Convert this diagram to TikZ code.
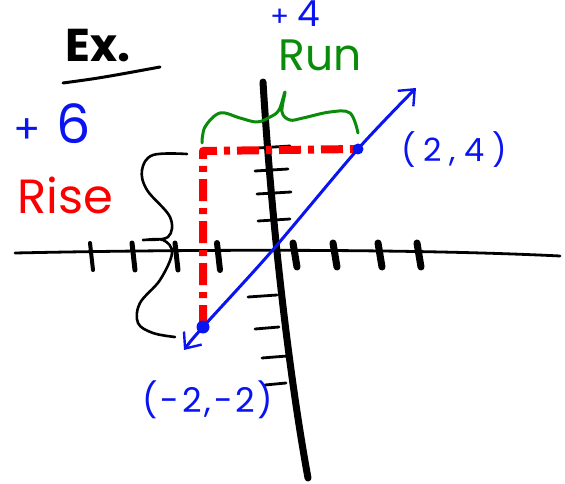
\documentclass[tikz,border=0pt]{standalone}
\usepackage{fontspec}
\setmainfont{Poppins}
\usetikzlibrary{arrows.meta}
\definecolor{penblue}{RGB}{10,20,240}
\definecolor{penred}{RGB}{250,0,0}
\definecolor{pengreen}{RGB}{10,140,10}
\tikzset{
  hand/.style={inner sep=0pt,font=\fontsize{#1}{#1}\selectfont},
  xtick/.style={line width=#1},
  ytick/.style={line width=2.8pt},
}
\begin{document}
\begin{tikzpicture}[x=1pt,y=-1pt,line join=round,line cap=round,>={Straight Barb[length=13pt,width=22pt,line width=2.4pt]}] %Rise over run
\useasboundingbox (0,0) rectangle (565,484);
\draw[line width=2.8pt] (15,253) .. controls (200,249) and (420,249) .. (560,256);
\draw[line width=7pt] (263,82) .. controls (272,230) and (290,380) .. (308,478);
\foreach \x/\w in {90/4pt,132/5pt,175/5pt,217/6pt}
  \draw[xtick=\w] (\x,243) -- (\x+3,270);
\foreach \x in {293,333,378,417}
  \draw[xtick=7pt] (\x,243) -- (\x+4,267);
\foreach \y/\a/\b in {147/258/290,170/255/288,193/257/291,220/258/290,296/248/277,328/255/279,357/262/287,384/265/286}
  \draw[ytick] (\a,\y+1) -- (\b,\y-1);
% the two points
\coordinate (P) at (358,149);
\coordinate (Q) at (203,327);
\coordinate (O) at (271,252);
\coordinate (C) at (203,151);
\coordinate (Pend) at (416,88);
\coordinate (Qend) at (184,350);
\draw[penred, line width=8pt, line cap=butt, dash pattern=on 22pt off 7pt on 6pt off 7pt] (Q) -- (C) -- (P);
\draw[penblue, line width=3pt, <->] plot[smooth] coordinates {(Qend) (Q) (O) (P) (Pend)};
\fill[penblue] (P) circle (5.5pt);
\fill[penblue] (Q) circle (6.5pt);
% braces
\draw[pengreen, line width=3pt] plot[smooth, tension=0.6] coordinates {(202,143) (205,127) (220,113) (240,118) (257,122) (270,117) (279,110) (285,92) (282,112) (290,120) (303,118) (330,112) (350,113) (358,133)};
\draw[line width=2.6pt] plot[smooth, tension=0.6] coordinates {(187,154) (153,155) (142,170) (147,190) (170,217) (168,237) (143,240) (163,240) (172,253) (160,280) (140,303) (138,323) (153,333) (175,337)};
% labels
\node[hand=46, text=black] (ex) at (98,46) {\bfseries Ex.};
\draw[line width=3pt] (63,83) .. controls (100,78) .. (160,67);
\node[hand=48, text=penred] (rise) at (65,195) {Rise};
\node[hand=54, text=penblue] (risenum) at (52,124) {{\fontsize{40}{40}\selectfont +}\hspace{16pt}6};
\node[hand=44, text=pengreen] (run) at (320,55) {Run};
\node[hand=36, text=penblue] (runnum) at (295,14) {{\fontsize{28}{28}\selectfont +}\hspace{8pt}4};
\node[hand=32, text=penblue] (ptP) at (454,150) {\addfontfeature{LetterSpace=25}(2,4)};
\node[hand=34, text=penblue] (ptQ) at (208,400) {\addfontfeature{LetterSpace=8}(-2,-2)};
\end{tikzpicture}
\end{document}
